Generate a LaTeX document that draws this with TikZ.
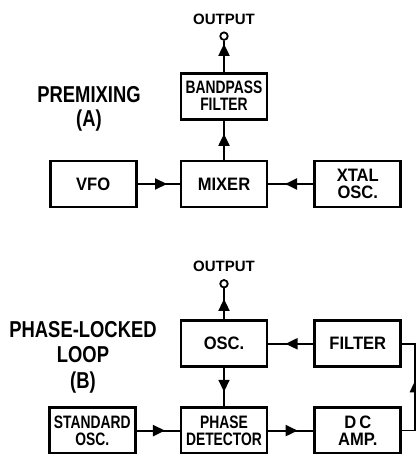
\documentclass[tikz,border=0pt]{standalone}
\usepackage{fontspec}
\newfontfamily\boxfont{Liberation Sans}[FakeStretch=0.92]
\newfontfamily\tightfont{Liberation Sans}[FakeStretch=0.77]
\newfontfamily\titlefont{Liberation Sans}[FakeStretch=0.8]
\newfontfamily\outfont{Liberation Sans}
\usetikzlibrary{arrows.meta, positioning, decorations.markings}

\begin{document}
\begin{tikzpicture}[
  x=1pt, y=1pt,
  box/.style={draw, line width=2.8pt, minimum width=86pt, minimum height=46pt, inner sep=1pt, align=center, font=\boxfont\bfseries\fontsize{18}{17}\selectfont},
  tightbox/.style={box, font=\tightfont\bfseries\fontsize{18}{17}\selectfont},
  title/.style={align=center, inner sep=0pt, font=\titlefont\bfseries\fontsize{23}{24}\selectfont},
  outlbl/.style={inner sep=0pt, font=\outfont\bfseries\fontsize{15}{15}\selectfont},
  term/.style={circle, draw, line width=1.8pt, minimum size=7.5pt, inner sep=0pt},
  conn/.style={line width=2pt},
  fbline/.style={line width=1.5pt},
  mid/.style={postaction={decorate}, decoration={markings, mark=at position #1 with {\arrow{Triangle[length=12pt, width=11pt]}}}},
  mid/.default=0.63
]
\useasboundingbox (0,0) rectangle (415,-454);

% (A) premixing
\node[box] (mixer) at (224,-184) {MIXER};
\node[box, left=42pt of mixer] (vfo) {VFO};
\node[box, right=45pt of mixer] (xtal) {XTAL\\OSC.};
\node[tightbox, above=39pt of mixer] (bpf) {BANDPASS\\FILTER};
\node[term, above=31pt of bpf] (outa) {};
\node[outlbl, above=7pt of outa] (outalbl) {OUTPUT};
\node[title] (titlea) at (89,-109) {PREMIXING\\(A)};

\draw[conn, mid=0.7] (vfo) -- (mixer);
\draw[conn, mid=0.63] (xtal) -- (mixer);
\draw[conn, mid=0.66] (mixer) -- (bpf);
\draw[conn, mid=0.9] (bpf) -- (outa);

% (B) phase-locked loop
\node[box, below=111pt of mixer] (osc) {OSC.};
\node[box, right=45pt of osc] (filter) {FILTER};
\node[tightbox, below=38pt of osc] (pd) {PHASE\\DETECTOR};
\node[tightbox, left=43pt of pd] (std) {STANDARD\\OSC.};
\node[box, right=45pt of pd] (dcamp) {D\hspace{3pt}C\\AMP.};
\node[term, above=31pt of osc] (outb) {};
\node[outlbl, above=7pt of outb] (outblbl) {OUTPUT};
\node[title] (titleb) at (83,-357) {PHASE-LOCKED\\[1pt]LOOP\\[2pt](B)};
\coordinate[right=13pt of dcamp] (fbturn);

\draw[conn, mid=0.66] (osc) -- (outb);
\draw[conn, mid=0.62] (osc) -- (pd);
\draw[conn, mid=0.66] (std) -- (pd);
\draw[conn, mid=0.65] (pd) -- (dcamp);
\draw[conn, mid=0.62] (filter) -- (osc);
\draw[fbline, mid=0.56] (dcamp.east) -- (fbturn) |- (filter.east);

\end{tikzpicture}
\end{document}
